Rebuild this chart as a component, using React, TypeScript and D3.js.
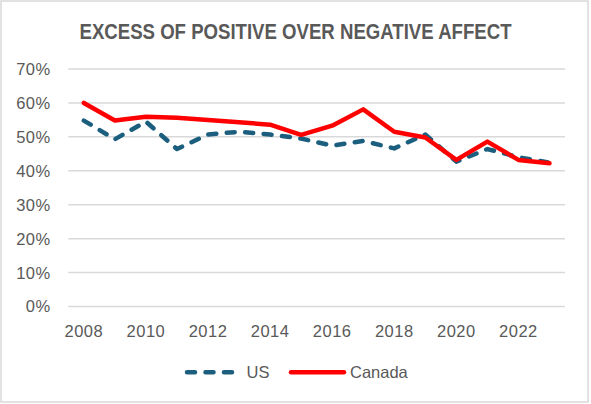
import React from "react";
import * as d3 from "d3";

const title = "EXCESS OF POSITIVE OVER NEGATIVE AFFECT";
const years = [2008, 2009, 2010, 2011, 2012, 2013, 2014, 2015, 2016, 2017, 2018, 2019, 2020, 2021, 2022, 2023];
const usValues = [54.8, 49.3, 54.5, 46.4, 50.7, 51.5, 50.7, 49.5, 47.4, 48.8, 46.6, 50.7, 42.7, 46.4, 44.0, 42.4];
const canadaValues = [60.0, 54.8, 55.9, 55.6, 55.0, 54.3, 53.6, 50.6, 53.3, 58.1, 51.5, 49.8, 43.2, 48.6, 43.2, 42.2];
const yTicks = [0, 10, 20, 30, 40, 50, 60, 70];
const xTickLabels = [2008, 2010, 2012, 2014, 2016, 2018, 2020, 2022];
const seriesNames = ["US", "Canada"];

const W = 591;
const H = 404;
const FONT = "'Liberation Sans', Arial, sans-serif";
const TEXT = "#595959";
const US_COLOR = "#1B5E7E";
const CA_COLOR = "#FF0000";

export default function App() {
  const x = d3.scaleBand<number>().domain(years).range([68.3, 565]).paddingInner(0).paddingOuter(0);
  const y = d3.scaleLinear().domain([0, 70]).range([306.5, 69]);
  const cx = (yr: number) => (x(yr) as number) + x.bandwidth() / 2;

  const line = d3
    .line<number>()
    .x((_, i) => cx(years[i]))
    .y((d) => y(d));

  return (
    <svg width={W} height={H} style={{ position: "absolute", left: 0, top: 0, background: "#fff" }}>
      <rect x={1} y={1} width={587} height={401} fill="#fff" stroke="#d9d9d9" strokeWidth={1.5} />
      <text
        x={295.5}
        y={39}
        textAnchor="middle"
        fontFamily={FONT}
        fontWeight="bold"
        fontSize={21.5}
        fill={TEXT}
        textLength={432}
        lengthAdjust="spacingAndGlyphs"
      >
        {title}
      </text>
      {yTicks.map((t) => (
        <g key={t}>
          <line x1={68.3} x2={565} y1={y(t)} y2={y(t)} stroke="#d9d9d9" strokeWidth={1.5} />
          <text
            x={50.5}
            y={y(t)}
            dy="0.36em"
            textAnchor="end"
            fontFamily={FONT}
            fontSize={16.5}
            letterSpacing={0.4}
            fill={TEXT}
          >
            {t + "%"}
          </text>
        </g>
      ))}
      {xTickLabels.map((yr) => (
        <text
          key={yr}
          x={cx(yr)}
          y={336.5}
          textAnchor="middle"
          fontFamily={FONT}
          fontSize={16.5}
          letterSpacing={0.5}
          fill={TEXT}
        >
          {yr}
        </text>
      ))}
      <path
        d={line(usValues) || ""}
        fill="none"
        stroke={US_COLOR}
        strokeWidth={4.5}
        strokeDasharray="8,10.5"
        strokeLinecap="round"
        strokeLinejoin="round"
      />
      <path
        d={line(canadaValues) || ""}
        fill="none"
        stroke={CA_COLOR}
        strokeWidth={4.5}
        strokeLinecap="round"
        strokeLinejoin="round"
      />
      <g>
        <line x1={187} x2={233} y1={372.3} y2={372.3} stroke={US_COLOR} strokeWidth={4.5} strokeDasharray="8,10.5" strokeLinecap="round" />
        <text x={246.5} y={378} fontFamily={FONT} fontSize={16.5} fill={TEXT}>
          {seriesNames[0]}
        </text>
        <line x1={291} x2={344} y1={372.3} y2={372.3} stroke={CA_COLOR} strokeWidth={4.5} strokeLinecap="round" />
        <text x={350} y={378} fontFamily={FONT} fontSize={16.5} fill={TEXT}>
          {seriesNames[1]}
        </text>
      </g>
    </svg>
  );
}
